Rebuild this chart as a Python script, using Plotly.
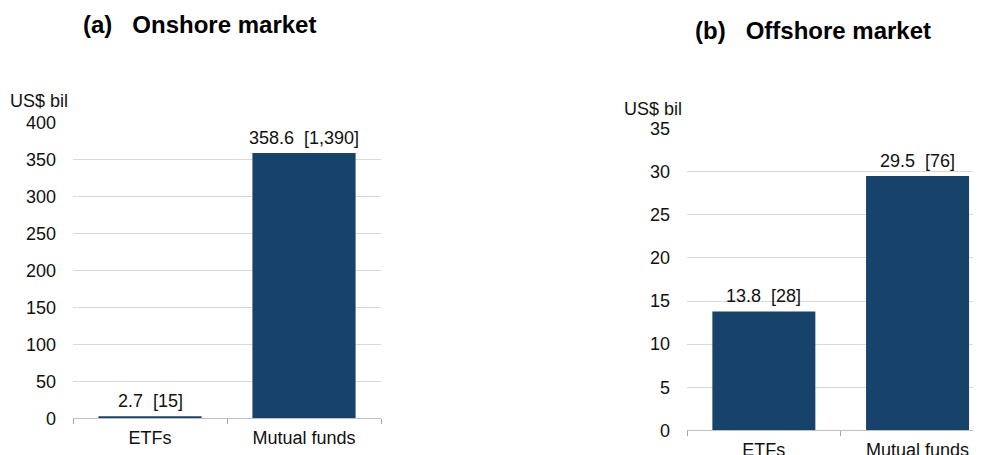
import plotly.graph_objects as go

categories = ["ETFs", "Mutual funds"]
onshore_values = [2.7, 358.6]
onshore_counts = [15, 1390]
offshore_values = [13.8, 29.5]
offshore_counts = [28, 76]
onshore_ticks = [0, 50, 100, 150, 200, 250, 300, 350, 400]
offshore_ticks = [0, 5, 10, 15, 20, 25, 30, 35]
panel_titles = ["(a)   Onshore market", "(b)   Offshore market"]
unit_label = "US$ bil"

W, H = 981, 455
FONT = "Liberation Sans, Arial, sans-serif"
BAR = "#17436b"
GRID = "#d9d9d9"

# Measured placement of the figure on the photographed page
OX, OY, AW, AH = 8.0, 17.0, 981.0, 435.0


def px_x(p):
    return min(1.0, max(0.0, (p - OX) / AW))


def px_y(p):
    return min(1.0, max(0.0, 1 - (p - OY) / AH))


fig = go.Figure()
fig.add_trace(go.Bar(x=categories, y=onshore_values, xaxis="x", yaxis="y",
                     marker=dict(color=BAR, line=dict(width=0)), showlegend=False,
                     hoverinfo="skip"))
fig.add_trace(go.Bar(x=categories, y=offshore_values, xaxis="x2", yaxis="y2",
                     marker=dict(color=BAR, line=dict(width=0)), showlegend=False,
                     hoverinfo="skip"))

annotations = []
for vals, cnts, xr, yr in [(onshore_values, onshore_counts, "x", "y"),
                           (offshore_values, offshore_counts, "x2", "y2")]:
    for c, v, n in zip(categories, vals, cnts):
        annotations.append(dict(x=c, y=v, xref=xr, yref=yr, text=f"{v:.1f}  [{n:,}]",
                                showarrow=False, yanchor="bottom", yshift=3,
                                font=dict(family=FONT, size=18, color="#111111")))

annotations.append(dict(x=px_x(199.5), y=px_y(24), xref="paper", yref="paper",
                        text="<b>" + panel_titles[0] + "</b>", showarrow=False,
                        xanchor="center", yanchor="middle",
                        font=dict(family=FONT, size=24, color="#000000")))
annotations.append(dict(x=px_x(813), y=px_y(29), xref="paper", yref="paper",
                        text="<b>" + panel_titles[1] + "</b>", showarrow=False,
                        xanchor="center", yanchor="middle",
                        font=dict(family=FONT, size=24, color="#000000")))
annotations.append(dict(x=px_x(39), y=px_y(100), xref="paper", yref="paper",
                        text=unit_label, showarrow=False, xanchor="center", yanchor="middle",
                        font=dict(family=FONT, size=18, color="#111111")))
annotations.append(dict(x=px_x(653), y=px_y(108), xref="paper", yref="paper",
                        text=unit_label, showarrow=False, xanchor="center", yanchor="middle",
                        font=dict(family=FONT, size=18, color="#111111")))

xcommon = dict(type="category", tickson="boundaries", ticks="outside", ticklen=5,
               tickcolor="#a6a6a6", showline=True, linecolor="#bfbfbf", linewidth=1,
               showgrid=False, zeroline=False, ticklabelstandoff=3,
               tickfont=dict(family=FONT, size=18, color="#111111"))
ycommon = dict(showline=False, zeroline=False, ticks="", gridcolor=GRID, gridwidth=1,
               tickfont=dict(family=FONT, size=18, color="#111111"), ticklabelstandoff=16)

# right panel: category step 153.7 px, left edge (-0.5) at x=687, runs off the page
right_max = -0.5 + (OX + AW - 687) / 153.7

fig.update_layout(
    width=W, height=H,
    margin=dict(l=0, r=0, t=0, b=0),
    paper_bgcolor="white", plot_bgcolor="white",
    bargap=0.33,
    annotations=annotations,
    xaxis=dict(xcommon, domain=[px_x(73), px_x(381)], range=[-0.5, 1.5], anchor="y"),
    yaxis=dict(ycommon, domain=[px_y(417.3), px_y(121.3)], range=[0, 400],
               tickvals=onshore_ticks, anchor="x"),
    xaxis2=dict(xcommon, domain=[px_x(687), 1.0], range=[-0.5, right_max], anchor="y2"),
    yaxis2=dict(ycommon, domain=[px_y(429.3), px_y(127.7)], range=[0, 35],
                tickvals=offshore_ticks, anchor="x2"),
)

fig.write_html("out.html")
